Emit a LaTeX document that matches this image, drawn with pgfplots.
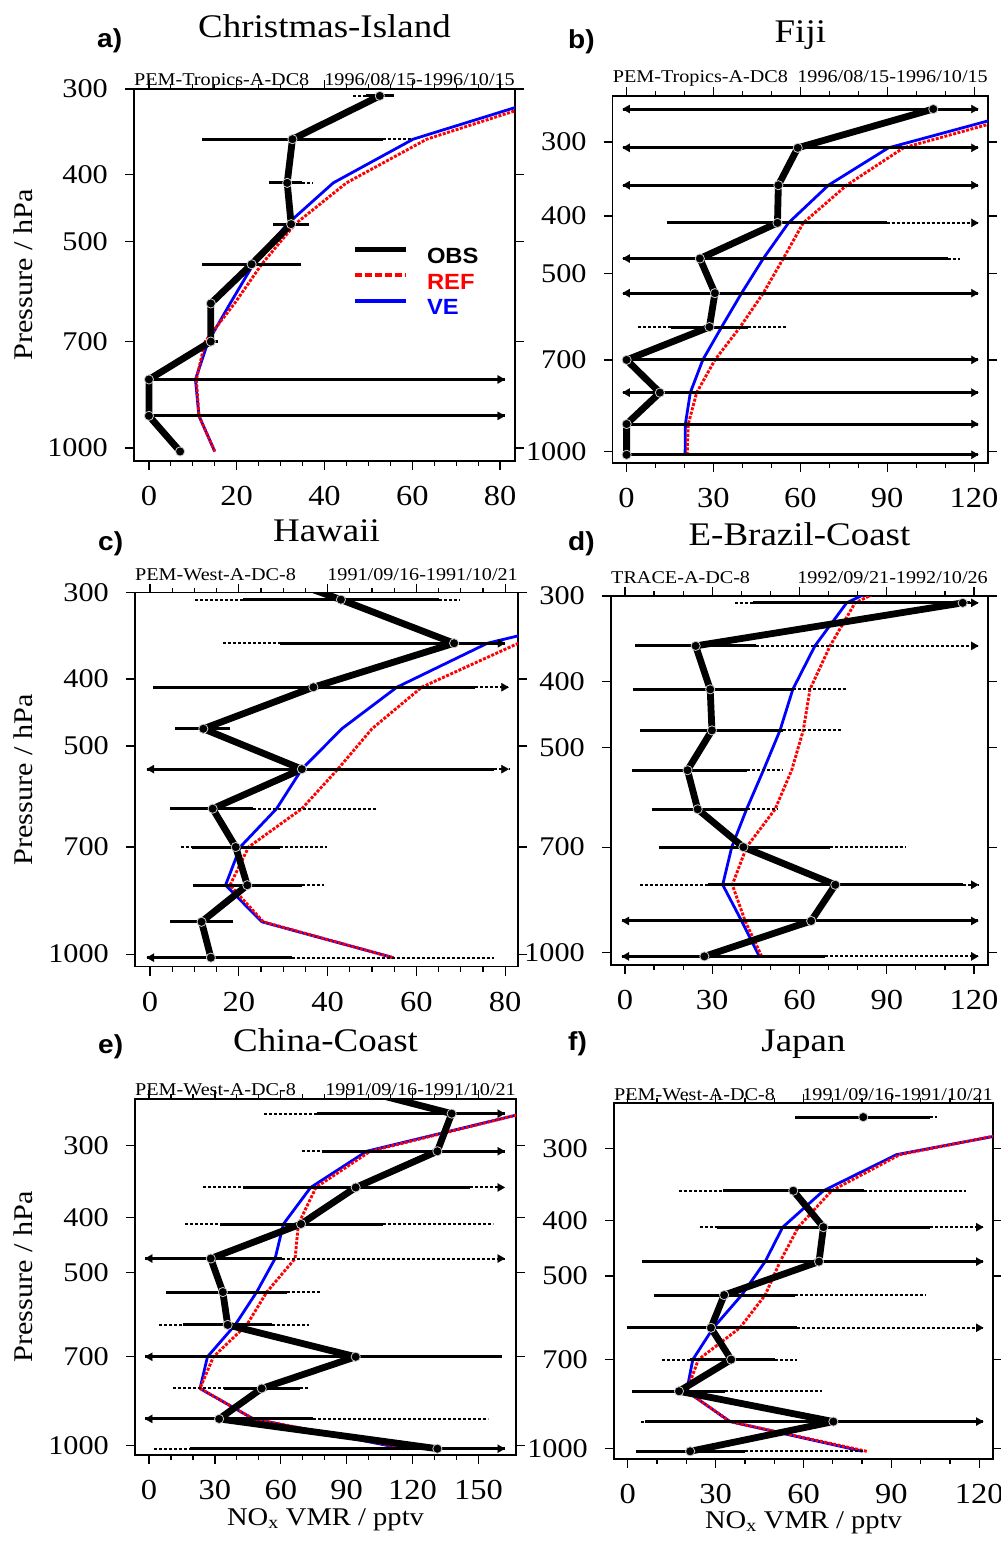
\documentclass[border=0pt]{standalone}
\usepackage{fontspec}
\setmainfont{Liberation Serif}[FakeStretch=1.12]
\newfontfamily\sfb{Liberation Sans}[FakeStretch=1.08]
\usepackage{pgfplots}
\pgfplotsset{compat=1.18}
\newcommand\fs[1]{\fontsize{#1}{#1}\selectfont}
\pgfplotsset{
  panelstyle/.style={
    scale only axis, clip mode=individual,
    axis line style={line width=1.2pt},
    every tick/.style={black, line width=1.2pt},
    tick align=outside,
    major tick length=9pt, minor tick length=5pt,
    ytick={300,400,500,700,1000},
    yticklabels={300,400,500,700,1000},
    yminorticks=false,
    yticklabel pos=left,
    xticklabel pos=lower,
    /pgf/number format/assume math mode=true,
    yticklabel style={font=\fs{27}, inner sep=0pt, anchor=east, xshift=-17pt},
    xticklabel style={font=\fs{29}, inner sep=0pt, anchor=north, yshift=-16pt},
    unbounded coords=jump,
  },
  ve/.style={blue, line width=2.8pt, line join=round},
  rf/.style={red, line width=2.9pt, dash pattern=on 3pt off 1.5pt},
  sbar/.style={black, line width=3pt},
  dbar/.style={black, line width=2pt, dash pattern=on 3pt off 2pt},
  rarr/.style={only marks, mark=triangle*, mark size=4.8pt, mark options={black, fill=black, solid, line width=0.1pt, xshift=-4.8pt, rotate=-90}},
  larr/.style={only marks, mark=triangle*, mark size=4.8pt, mark options={black, fill=black, solid, line width=0.1pt, xshift=4.8pt, rotate=90}},
  obs/.style={black, line width=6.8pt, line join=round, mark=*, mark size=4.6pt, mark options={fill=black, draw=white!80!black, line width=0.8pt}},
}
\begin{document}
\begin{tikzpicture}
\useasboundingbox (0,0) rectangle (1001pt,-1564pt);

% ---------------- a) Christmas-Island
\begin{axis}[panelstyle, ymode=log, y dir=reverse, at={(134pt,-89pt)}, anchor=north west, width=381pt, height=372pt,
  xmin=-3.4, xmax=83.4, ymin=300, ymax=1045, xtick={0,20,...,80}, minor x tick num=3,
  legend style={at={(axis description cs:0.573,0.575)}, anchor=north west, draw=none, fill=none, inner sep=0pt, font=\sfb\bfseries\fs{22}, row sep=8pt, column sep=0pt, nodes={inner sep=0pt}},
  legend cell align=left,
  legend image code/.code={\draw[#1] (0pt,7pt) -- (51pt,7pt); \path[draw=none, fill=none] (0pt,0pt) -- (72pt,0pt);}]
\addlegendimage{black, line width=5pt}
\addlegendentry{OBS}
\addlegendimage{red, line width=4pt, dash pattern=on 7pt off 3pt}
\addlegendentry{\textcolor{red}{REF}}
\addlegendimage{blue, line width=4pt}
\addlegendentry{\textcolor{blue}{VE}}
\addplot[ve] coordinates {(15,1012) (11.4,898) (10.6,795) (13.5,700) (18.5,616) (23.8,540) (31.5,472) (42,411) (60.2,355) (92,307)};
\addplot[rf] coordinates {(15,1012) (11.4,898) (10.8,795) (12.8,700) (19.5,616) (25.7,540) (33.3,472) (45,411) (63.3,355) (94,307)};
\addplot[dbar] coordinates {(46.5,307) (49.5,307) (nan,nan) (53.4,355) (60.2,355) (nan,nan) (34.8,411) (37.3,411)};
\addplot[sbar] coordinates {(49.5,307) (55.8,307) (nan,nan) (12.2,355) (53.4,355) (nan,nan) (27.4,411) (34.8,411) (nan,nan) (28.3,472) (36.5,472) (nan,nan) (12.2,540) (34.6,540) (nan,nan) (14.1,700) (15.8,700) (nan,nan) (0,795) (81.1,795) (nan,nan) (0,898) (81.1,898)};
\addplot[rarr] coordinates {(81.1,795) (81.1,898)};
\addplot[obs] coordinates {(52.6,307) (32.7,355) (31.5,411) (32.4,472) (23.4,540) (14.1,616) (14.1,700) (0,795) (0,898) (7.1,1012)};
\node[anchor=base, font=\fs{33}, yshift=52pt] at (axis description cs:0.5,1) {Christmas-Island};
\node[anchor=base west, font=\sfb\bfseries\fs{26}, inner sep=0pt, xshift=-37pt, yshift=42pt] at (axis description cs:0,1) {a)};
\node[anchor=base west, font=\fs{18}, inner sep=0pt, yshift=4pt] at (axis description cs:0,1) {PEM-Tropics-A-DC8};
\node[anchor=base east, font=\fs{18}, inner sep=0pt, yshift=4pt] at (axis description cs:1,1) {1996/08/15-1996/10/15};
\node[rotate=90, font=\fs{27}] at (axis description cs:-0.291,0.5) {Pressure / hPa};
\end{axis}

% ---------------- b) Fiji
\begin{axis}[panelstyle, ymode=log, y dir=reverse, at={(612.7pt,-96pt)}, anchor=north west, width=375.3pt, height=367pt,
  xmin=-4.8, xmax=124.8, ymin=251, ymax=1045, xtick={0,30,...,120}, minor x tick num=2]
\addplot[ve] coordinates {(20.2,1012) (20.3,898) (22,795) (26.3,700) (32.8,616) (39.7,540) (47.2,472) (55.9,411) (69.7,355) (90.4,307) (140,264)};
\addplot[rf] coordinates {(20.9,1012) (21.3,898) (24.2,795) (30.5,700) (39.2,616) (47.2,540) (54.1,472) (61,411) (76,355) (95.6,307) (144,264)};
\addplot[dbar] coordinates {(89.8,411) (121.5,411) (nan,nan) (111,472) (115,472) (nan,nan) (4,616) (15.5,616) (nan,nan) (42,616) (55,616)};
\addplot[sbar] coordinates {(-1.4,264) (121.5,264) (nan,nan) (-1.4,307) (121.5,307) (nan,nan) (-1.4,355) (121.5,355) (nan,nan) (14,411) (89.8,411) (nan,nan) (-1.4,472) (111,472) (nan,nan) (-1.4,540) (121.5,540) (nan,nan) (15.5,616) (42,616) (nan,nan) (0,700) (121.5,700) (nan,nan) (-1.4,795) (121.5,795) (nan,nan) (0,898) (121.5,898) (nan,nan) (0,1012) (121.5,1012)};
\addplot[rarr] coordinates {(121.5,264) (121.5,307) (121.5,355) (121.5,411) (121.5,540) (121.5,700) (121.5,795) (121.5,898) (121.5,1012)};
\addplot[larr] coordinates {(-1.4,264) (-1.4,307) (-1.4,355) (-1.4,472) (-1.4,540) (-1.4,795)};
\addplot[obs] coordinates {(105.9,264) (59.1,307) (52.4,355) (52.1,411) (25.3,472) (30.5,540) (28.6,616) (0,700) (11.5,795) (0,898) (0,1012)};
\node[anchor=base, font=\fs{33}, yshift=54pt] at (axis description cs:0.5,1) {Fiji};
\node[anchor=base west, font=\sfb\bfseries\fs{26}, inner sep=0pt, xshift=-44.7pt, yshift=48pt] at (axis description cs:0,1) {b)};
\node[anchor=base west, font=\fs{18}, inner sep=0pt, yshift=14pt] at (axis description cs:0,1) {PEM-Tropics-A-DC8};
\node[anchor=base east, font=\fs{18}, inner sep=0pt, yshift=14pt] at (axis description cs:1,1) {1996/08/15-1996/10/15};
\end{axis}

% ---------------- c) Hawaii
\begin{axis}[panelstyle, ymode=log, y dir=reverse, at={(135pt,-592.7pt)}, anchor=north west, width=383pt, height=374pt,
  xmin=-3.4, xmax=82.9, ymin=300, ymax=1043, xtick={0,20,...,80}, minor x tick num=3]
\addplot[ve] coordinates {(54.8,1012) (25.2,898) (17,795) (20.3,700) (28.5,616) (34.2,540) (43.2,472) (55.6,411) (76,355) (117,307)};
\addplot[rf] coordinates {(54.8,1012) (25.5,898) (18,795) (22.2,700) (34.2,616) (42.3,540) (50,472) (61.2,411) (83,355) (120,307)};
\addplot[dbar] coordinates {(10.1,307) (21,307) (nan,nan) (65.2,307) (69.9,307) (nan,nan) (16.4,355) (29.3,355) (nan,nan) (73.2,411) (80.8,411) (nan,nan) (77.4,540) (80.8,540) (nan,nan) (23.3,616) (51.1,616) (nan,nan) (7,700) (9.4,700) (nan,nan) (29.3,700) (39.8,700) (nan,nan) (34.2,795) (39.2,795) (nan,nan) (31.9,1012) (77.4,1012)};
\addplot[sbar] coordinates {(21,307) (65.2,307) (nan,nan) (29.3,355) (80,355) (nan,nan) (0.6,411) (73.2,411) (nan,nan) (5.6,472) (18,472) (nan,nan) (-0.75,540) (77.4,540) (nan,nan) (4.5,616) (23.3,616) (nan,nan) (9.4,700) (29.3,700) (nan,nan) (9.6,795) (34.2,795) (nan,nan) (4.5,898) (18.6,898) (nan,nan) (-0.75,1012) (31.9,1012)};
\addplot[rarr] coordinates {(80,355) (80.8,411) (80.8,540)};
\addplot[larr] coordinates {(-0.75,540) (-0.75,1012)};
\addplot[obs] coordinates {(14.6,264) (43,307) (68.5,355) (36.8,411) (12,472) (34.2,540) (14.1,616) (19.3,700) (21.9,795) (11.6,898) (13.7,1012)};
\node[anchor=base, font=\fs{33}, yshift=51pt] at (axis description cs:0.5,1) {Hawaii};
\node[anchor=base west, font=\sfb\bfseries\fs{26}, inner sep=0pt, xshift=-37pt, yshift=42.7pt] at (axis description cs:0,1) {c)};
\node[anchor=base west, font=\fs{18}, inner sep=0pt, yshift=12.7pt] at (axis description cs:0,1) {PEM-West-A-DC-8};
\node[anchor=base east, font=\fs{18}, inner sep=0pt, yshift=12.7pt] at (axis description cs:1,1) {1991/09/16-1991/10/21};
\node[rotate=90, font=\fs{27}] at (axis description cs:-0.292,0.5) {Pressure / hPa};
\end{axis}

% ---------------- d) E-Brazil-Coast
\begin{axis}[panelstyle, ymode=log, y dir=reverse, at={(611pt,-596pt)}, anchor=north west, width=377pt, height=369pt,
  xmin=-4.8, xmax=124.8, ymin=300, ymax=1042, xtick={0,30,...,120}, minor x tick num=2]
\addplot[ve] coordinates {(46.2,1012) (40.1,898) (33.6,795) (36.7,700) (41.8,616) (47.6,540) (53.3,472) (57.7,411) (65.3,355) (76.2,307) (108,264)};
\addplot[rf] coordinates {(47,1012) (41.3,898) (36.9,795) (41.8,700) (51.6,616) (57.3,540) (61.3,472) (63.6,411) (70.5,355) (79.1,307) (111,264)};
\addplot[dbar] coordinates {(37.8,307) (44.1,307) (nan,nan) (118.6,307) (121.5,307) (nan,nan) (45,355) (121.5,355) (nan,nan) (57.9,411) (76.4,411) (nan,nan) (54.4,472) (74.8,472) (nan,nan) (41.8,540) (53.9,540) (nan,nan) (41.8,616) (52.7,616) (nan,nan) (70.5,700) (96.3,700) (nan,nan) (5.2,795) (28.7,795) (nan,nan) (116.3,795) (121.5,795) (nan,nan) (68.8,1012) (121.5,1012)};
\addplot[sbar] coordinates {(44.1,307) (118.6,307) (nan,nan) (3.4,355) (45,355) (nan,nan) (2.6,411) (57.9,411) (nan,nan) (5.2,472) (54.4,472) (nan,nan) (2.3,540) (41.8,540) (nan,nan) (9.2,616) (41.8,616) (nan,nan) (11.7,700) (70.5,700) (nan,nan) (28.7,795) (116.3,795) (nan,nan) (-1.1,898) (121.5,898) (nan,nan) (-1.1,1012) (68.8,1012)};
\addplot[rarr] coordinates {(121.5,307) (121.5,355) (121.5,795) (121.5,898) (121.5,1012)};
\addplot[larr] coordinates {(-1.1,898) (-1.1,1012)};
\addplot[obs] coordinates {(116.1,307) (24.3,355) (29.3,411) (29.9,472) (21.5,540) (25,616) (40.7,700) (72.3,795) (64,898) (27.3,1012)};
\node[anchor=base, font=\fs{33}, yshift=51pt] at (axis description cs:0.5,1) {E-Brazil-Coast};
\node[anchor=base west, font=\sfb\bfseries\fs{26}, inner sep=0pt, xshift=-43pt, yshift=46pt] at (axis description cs:0,1) {d)};
\node[anchor=base west, font=\fs{18}, inner sep=0pt, yshift=13pt] at (axis description cs:0,1) {TRACE-A-DC-8};
\node[anchor=base east, font=\fs{18}, inner sep=0pt, yshift=13pt] at (axis description cs:1,1) {1992/09/21-1992/10/26};
\end{axis}

% ---------------- e) China-Coast
\begin{axis}[panelstyle, ymode=log, y dir=reverse, at={(135pt,-1099pt)}, anchor=north west, width=381pt, height=356pt,
  xmin=-6.4, xmax=167.1, ymin=249, ymax=1038, xtick={0,30,...,150}, minor x tick num=2]
\addplot[ve] coordinates {(116,1012) (47.5,898) (23.2,795) (26.6,700) (39.2,616) (49,540) (57.4,472) (61.2,411) (73.6,355) (99.1,307) (170,264)};
\addplot[rf] coordinates {(118,1012) (47.5,898) (23.2,795) (29.3,700) (44.5,616) (53.6,540) (66.5,472) (68,411) (76,355) (100.7,307) (170,264)};
\addplot[dbar] coordinates {(52.5,264) (76.4,264) (nan,nan) (69.5,307) (78.6,307) (nan,nan) (24.7,355) (42.7,355) (nan,nan) (146.2,355) (162,355) (nan,nan) (16.4,411) (32.3,411) (nan,nan) (106.7,411) (156.8,411) (nan,nan) (60.4,472) (162,472) (nan,nan) (62.7,540) (77.9,540) (nan,nan) (4.7,616) (15.3,616) (nan,nan) (55.9,616) (73,616) (nan,nan) (11.1,795) (34.2,795) (nan,nan) (68.8,795) (73.3,795) (nan,nan) (74.8,898) (154.5,898) (nan,nan) (2.3,1012) (18.7,1012)};
\addplot[sbar] coordinates {(76.4,264) (162,264) (nan,nan) (78.6,307) (162,307) (nan,nan) (42.7,355) (146.2,355) (nan,nan) (32.3,411) (106.7,411) (nan,nan) (-1.8,472) (60.4,472) (nan,nan) (7.7,540) (62.7,540) (nan,nan) (15.3,616) (55.9,616) (nan,nan) (-1.8,700) (160.6,700) (nan,nan) (34.2,795) (68.8,795) (nan,nan) (-1.8,898) (74.8,898) (nan,nan) (18.7,1012) (162,1012)};
\addplot[rarr] coordinates {(162,264) (162,307) (162,355) (162,472) (162,1012)};
\addplot[larr] coordinates {(-1.8,472) (-1.8,700) (-1.8,898)};
\addplot[obs] coordinates {(73.3,228) (137.8,264) (131.3,307) (94.1,355) (69.2,411) (28.1,472) (33.6,540) (35.8,616) (94.1,700) (51.3,795) (31.9,898) (131.3,1012)};
\node[anchor=base, font=\fs{33}, yshift=47.3pt] at (axis description cs:0.5,1) {China-Coast};
\node[anchor=base west, font=\sfb\bfseries\fs{26}, inner sep=0pt, xshift=-37pt, yshift=46pt] at (axis description cs:0,1) {e)};
\node[anchor=base west, font=\fs{18}, inner sep=0pt, yshift=4pt] at (axis description cs:0,1) {PEM-West-A-DC-8};
\node[anchor=base east, font=\fs{18}, inner sep=0pt, yshift=4pt] at (axis description cs:1,1) {1991/09/16-1991/10/21};
\node[rotate=90, font=\fs{27}] at (axis description cs:-0.294,0.5) {Pressure / hPa};
\node[anchor=base, font=\fs{25.5}, yshift=-70pt] at (axis description cs:0.5,0) {NO\textsubscript{x} VMR / pptv};
\end{axis}

% ---------------- f) Japan
\begin{axis}[panelstyle, ymode=log, y dir=reverse, at={(614pt,-1103pt)}, anchor=north west, width=379pt, height=356pt,
  xmin=-4.7, xmax=124.7, ymin=249.5, ymax=1044, xtick={0,30,...,120}, minor x tick num=2]
\addplot[ve] coordinates {(80.2,1012) (34.9,898) (20.1,795) (22.2,700) (29.2,616) (38.9,540) (46.9,472) (52.9,411) (66.8,355) (91.8,307) (160,264)};
\addplot[rf] coordinates {(81.6,1012) (34.9,898) (20.1,795) (24.1,700) (38.3,616) (46.9,540) (52,472) (58.2,411) (69.6,355) (92.9,307) (158,264)};
\addplot[dbar] coordinates {(103.2,264) (105.7,264) (nan,nan) (17.5,355) (32.6,355) (nan,nan) (80.8,355) (115.4,355) (nan,nan) (24.5,411) (30.6,411) (nan,nan) (103.2,411) (121.4,411) (nan,nan) (57.1,540) (101.5,540) (nan,nan) (57.7,616) (121.4,616) (nan,nan) (11.8,700) (21.3,700) (nan,nan) (50.3,700) (57.7,700) (nan,nan) (33.2,795) (66.2,795) (nan,nan) (4.5,898) (5.9,898) (nan,nan) (40,1012) (80.4,1012)};
\addplot[sbar] coordinates {(57.1,264) (103.2,264) (nan,nan) (32.6,355) (80.8,355) (nan,nan) (30.6,411) (103.2,411) (nan,nan) (4.8,472) (121.4,472) (nan,nan) (8.8,540) (57.1,540) (nan,nan) (-0.3,616) (57.7,616) (nan,nan) (21.3,700) (50.3,700) (nan,nan) (1.4,795) (33.2,795) (nan,nan) (5.9,898) (121.4,898) (nan,nan) (2.7,1012) (40,1012)};
\addplot[rarr] coordinates {(121.4,411) (121.4,472) (121.4,616) (121.4,898)};
\addplot[obs] coordinates {(56.5,355) (66.8,411) (65.3,472) (32.9,540) (28.4,616) (35.3,700) (17.5,795) (70.2,898) (21.3,1012)};
\addplot[obs, only marks] coordinates {(80.4,264)};
\node[anchor=base, font=\fs{33}, yshift=51.3pt] at (axis description cs:0.5,1) {Japan};
\node[anchor=base west, font=\sfb\bfseries\fs{26}, inner sep=0pt, xshift=-46pt, yshift=53pt] at (axis description cs:0,1) {f)};
\node[anchor=base west, font=\fs{18}, inner sep=0pt, yshift=3pt] at (axis description cs:0,1) {PEM-West-A-DC-8};
\node[anchor=base east, font=\fs{18}, inner sep=0pt, yshift=3pt] at (axis description cs:1,1) {1991/09/16-1991/10/21};
\node[anchor=base, font=\fs{25.5}, yshift=-69pt] at (axis description cs:0.5,0) {NO\textsubscript{x} VMR / pptv};
\end{axis}
\end{tikzpicture}
\end{document}
